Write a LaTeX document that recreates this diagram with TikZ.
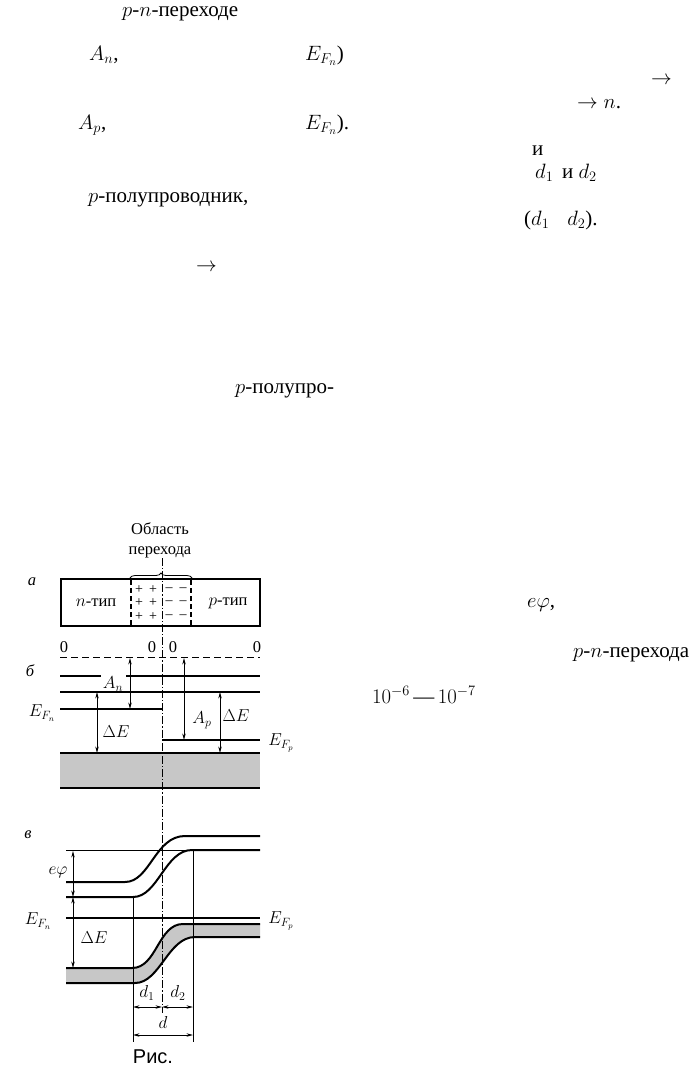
\documentclass[tikz,border=0pt]{standalone}
\usepackage{fontspec}
\setmainfont{Liberation Serif}
\newfontfamily\capfont{Liberation Sans}
\usetikzlibrary{arrows.meta,decorations.pathreplacing}
\tikzset{
  txt/.style={anchor=base west, inner sep=0pt, font=\fontsize{21}{25}\selectfont},
  lbl/.style={inner sep=0.5pt, font=\fontsize{16.5}{20}\selectfont},
  sig/.style={inner sep=0pt, font=\fontsize{14}{16}\selectfont},
  thickln/.style={line width=2pt},
  midln/.style={line width=1.6pt},
  thinln/.style={line width=0.8pt},
  dimarr/.style={line width=0.8pt, {Stealth[length=6.5pt,width=3.4pt]}-{Stealth[length=6.5pt,width=3.4pt]}},
  axisln/.style={line width=0.8pt, dash pattern=on 8pt off 2pt on 1.2pt off 2pt},
  boxdash/.style={line width=1.2pt, dash pattern=on 5pt off 3pt},
  zerodash/.style={line width=1pt, dash pattern=on 7pt off 4pt},
  bandfill/.style={fill=black!22}
}
\begin{document}
\begin{tikzpicture}[x=1pt,y=-1pt]
\useasboundingbox (0,0) rectangle (690,1069);
\fill[white] (0,0) rectangle (690,1069);

% ---------- text fragments ----------
\node[txt] (t1)  at (122,16)  {$p$-$n$-переходе};
\node[txt] (t2)  at (89,60)   {$A_n$,};
\node[txt] (t3)  at (305,60)  {$E_{F_n}$)};
\node[txt] (t4)  at (651,84)  {$\rightarrow$};
\node[txt] (t5)  at (577,108) {$\rightarrow n$.};
\node[txt] (t6)  at (78,129)  {$A_p$,};
\node[txt] (t7)  at (305,129) {$E_{F_n}$).};
\node[txt] (t8)  at (532,155) {и};
\node[txt] (t9)  at (535,178) {$d_1$\, и $d_2$};
\node[txt] (t10) at (88,202)  {$p$-полупроводник,};
\node[txt] (t11) at (524,225) {($d_1$\hspace{18pt}$d_2$).};
\node[txt] (t12) at (196,271) {$\rightarrow$};
\node[txt] (t13) at (235,393) {$p$-полупро-};
\node[txt] (t14) at (527,607) {$e\varphi$,};
\node[txt] (t15) at (573,657) {$p$-$n$-перехода};
\node[txt] (t16) at (372,703) {$10^{-6}$\,—\,$10^{-7}$};

% ---------- part a ----------
\node[lbl, align=center] (reg) at (160,540) {Область\\перехода};
\draw[thinln, decorate, decoration={brace, amplitude=5pt}] (130,578) -- (192,578);
\node[lbl, font=\fontsize{16.5}{20}\selectfont\itshape] (la) at (32,582) {а};
\draw[thickln] (61,579) rectangle (260,626);
\draw[boxdash] (131,580) -- (131,625);
\draw[boxdash] (191,580) -- (191,625);
\node[lbl] (ntype) at (96,603) {$n$-тип};
\node[lbl] (ptype) at (228,603) {$p$-тип};
\foreach \yy in {590,603,617} {
  \node[sig] at (139,\yy) {+};
  \node[sig] at (153,\yy) {+};
  \node[sig] at (169,\yy) {–};
  \node[sig] at (183,\yy) {–};
}

% ---------- part b ----------
\node[lbl] (z1) at (64,647) {0};
\node[lbl] (z2) at (152,647) {0};
\node[lbl] (z3) at (173,647) {0};
\node[lbl] (z4) at (257,647) {0};
\draw[zerodash] (60,657) -- (260,657);
\node[lbl, font=\fontsize{16.5}{20}\selectfont\itshape] (lb) at (30,671) {б};
\draw[thickln] (60,676) -- (101,676);
\draw[thickln] (126,676) -- (260,676);
\draw[thickln] (60,692) -- (260,692);
\draw[midln] (60,709) -- (162,709);
\draw[midln] (162,740) -- (260,740);
\fill[bandfill] (60,753) rectangle (260,788);
\draw[thickln] (60,753) -- (260,753);
\draw[thickln] (60,788) -- (260,788);
\draw[dimarr] (130,658) -- (130,709);
\draw[dimarr] (184,658) -- (184,740);
\draw[dimarr] (97,692) -- (97,753);
\draw[dimarr] (220,692) -- (220,753);
\node[lbl] (an) at (113,684) {$A_n$};
\node[lbl] (ap) at (202,720) {$A_p$};
\node[lbl] (de1) at (116,732) {$\Delta E$};
\node[lbl] (de2) at (236,716) {$\Delta E$};
\node[lbl] (efn1) at (42,713) {$E_{F_n}$};
\node[lbl] (efp1) at (281,743) {$E_{F_p}$};

% ---------- part c ----------
\node[lbl, font=\fontsize{16.5}{20}\selectfont\itshape] (lc) at (28,835) {в};
\fill[bandfill] (66,968) -- (132,968) .. controls (157,968) and (158,924) .. (183,924) -- (260,924)
   -- (260,937) -- (195,937) .. controls (168,937) and (160,983) .. (135,983) -- (66,983) -- cycle;
\draw[thickln] (66,882) -- (125,882) .. controls (150,882) and (155,836) .. (185,836) -- (260,836);
\draw[thinln] (66,850) -- (192,850);
\draw[thickln] (66,897) -- (133,897) .. controls (158,897) and (165,850) .. (192,850) -- (260,850);
\draw[thickln] (66,918) -- (260,918);
\draw[thickln] (66,968) -- (132,968) .. controls (157,968) and (158,924) .. (183,924) -- (260,924);
\draw[thickln] (66,983) -- (135,983) .. controls (160,983) and (168,937) .. (195,937) -- (260,937);
\draw[dimarr] (73,851) -- (73,897);
\draw[dimarr] (73,897) -- (73,968);
\node[lbl] (ephi) at (58,872) {$e\varphi$};
\node[lbl] (de3) at (94,938) {$\Delta E$};
\node[lbl] (efn2) at (38,921) {$E_{F_n}$};
\node[lbl] (efp2) at (281,921) {$E_{F_p}$};
\draw[thinln] (133,897) -- (133,1042);
\draw[thinln] (193,850) -- (193,1042);
\draw[dimarr] (133,1007) -- (162,1007);
\draw[dimarr] (162,1007) -- (193,1007);
\draw[dimarr] (133,1035) -- (193,1035);
\node[lbl] (d1) at (147,993) {$d_1$};
\node[lbl] (d2) at (178,993) {$d_2$};
\node[lbl] (dd) at (163,1022) {$d$};

% centre line through all parts
\draw[axisln] (162,558) -- (162,1013);

\node[inner sep=0pt, font=\capfont\fontsize{20}{22}\selectfont] (cap) at (153,1057) {Рис.};
\end{tikzpicture}
\end{document}
